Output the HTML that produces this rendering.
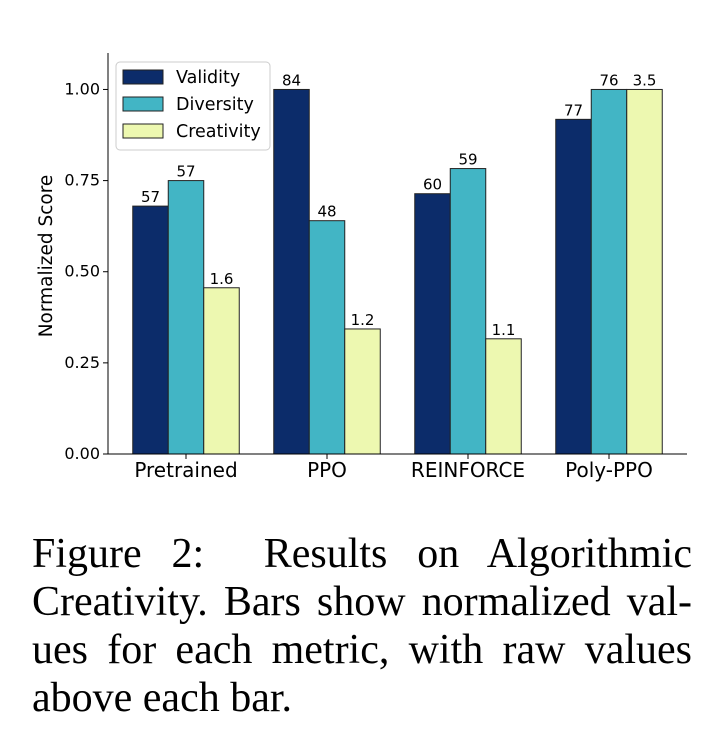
<!DOCTYPE html>
<html><head><meta charset="utf-8"><style>
body{margin:0;background:#fff;width:722px;height:746px;overflow:hidden;position:relative}
#cap{position:absolute;left:32px;top:530px;width:660px;font-family:"Liberation Serif",serif;font-size:42px;line-height:48px;color:#000}
#cap div{text-align:justify;text-align-last:justify;white-space:nowrap}
#cap div.last{text-align-last:left}
</style></head><body>
<svg id="chart" width="722" height="520" style="position:absolute;left:0;top:0" font-family="DejaVu Sans, sans-serif"></svg>
<div id="cap"><div>Figure 2:&nbsp; Results on Algorithmic</div><div>Creativity. Bars show normalized val-</div><div>ues for each metric, with raw values</div><div class="last">above each bar.</div></div>
<script>
const categories=["Pretrained","PPO","REINFORCE","Poly-PPO"];
const seriesNames=["Validity","Diversity","Creativity"];
const validity=[0.68,1.0,0.714,0.918];
const diversity=[0.75,0.64,0.783,1.0];
const creativity=[0.456,0.343,0.316,1.0];
const validityLabels=["57","84","60","77"];
const diversityLabels=["57","48","59","76"];
const creativityLabels=["1.6","1.2","1.1","3.5"];
const yTicks=[0,0.25,0.5,0.75,1.0];
const colors=["#0c2c6a","#42b5c5","#edf8b0"];
const svg=document.getElementById('chart');const NS="http://www.w3.org/2000/svg";
const L=108,R=687,T=53,B=454,yMax=1.1;
const y=v=>B-(B-T)*v/yMax;
const gx=i=>186+141*i;const bw=35.5;
function mk(t,a,txt){const e=document.createElementNS(NS,t);for(const k in a)e.setAttribute(k,a[k]);if(txt!=null)e.textContent=txt;svg.appendChild(e);return e;}
const all=[validity,diversity,creativity],labs=[validityLabels,diversityLabels,creativityLabels];
categories.forEach((c,i)=>{all.forEach((s,j)=>{const x=gx(i)+(j-1.5)*bw;
const r=mk('rect',{x:x,y:y(s[i]),width:bw,height:B-y(s[i]),fill:colors[j],stroke:'#222','stroke-width':1});


const t=mk('text',{x:x+bw/2,y:y(s[i])-4,'text-anchor':'middle','font-size':15},labs[j][i]);

});
mk('line',{x1:gx(i),x2:gx(i),y1:B,y2:B+5,stroke:'#000'});
const t=mk('text',{x:gx(i),y:B+23,'text-anchor':'middle','font-size':20},c);

});
yTicks.forEach(v=>{mk('line',{x1:L-5,x2:L,y1:y(v),y2:y(v),stroke:'#000'});
const t=mk('text',{x:L-8,y:y(v)+5,'text-anchor':'end','font-size':16},v.toFixed(2));

});
mk('line',{x1:L,x2:L,y1:T,y2:B,stroke:'#000'});
mk('line',{x1:L,x2:R,y1:B,y2:B,stroke:'#000'});
const yt=mk('text',{x:52,y:256,'text-anchor':'middle','font-size':18.5,transform:'rotate(-90 52 256)'},'Normalized Score');


const lg=mk('rect',{x:116,y:62,width:154,height:88,rx:4,fill:'#fff',stroke:'#ccc'});


seriesNames.forEach((n,j)=>{mk('rect',{x:123,y:70+27*j,width:40,height:14,fill:colors[j],stroke:'#222'});
const t=mk('text',{x:176,y:83+27*j,'font-size':17.5},n);

});
</script>
</body></html>
